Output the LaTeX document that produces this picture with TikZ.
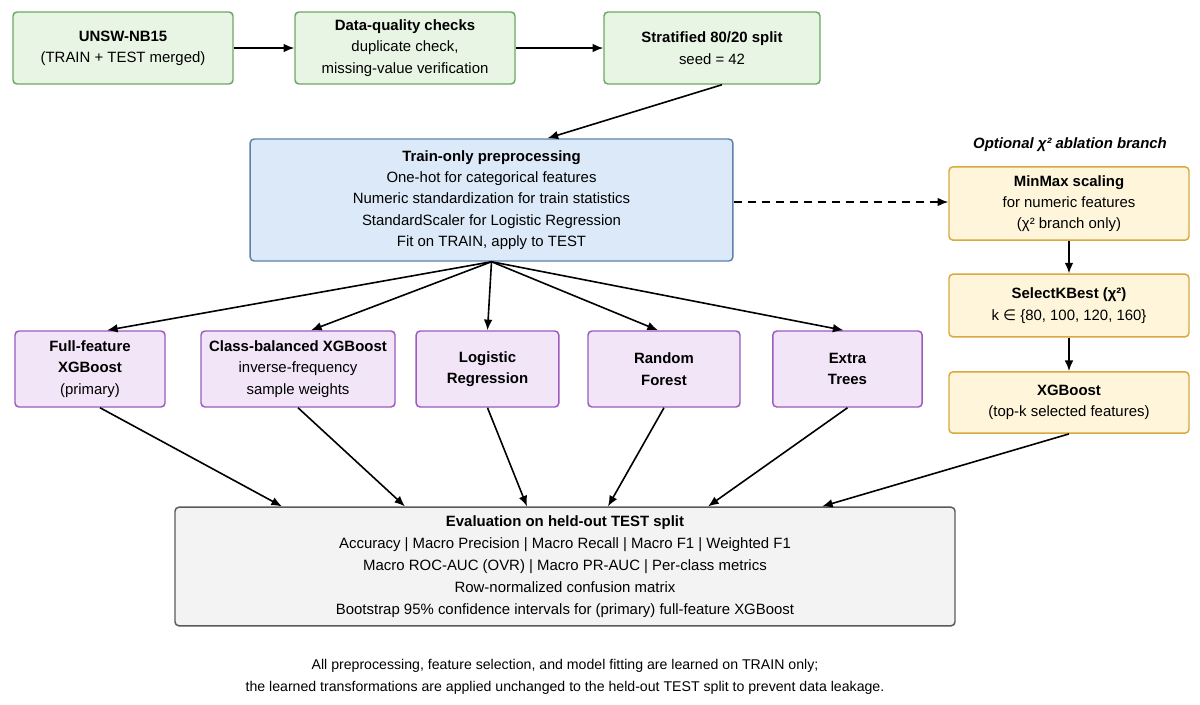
\documentclass[tikz,border=0pt]{standalone}
\usepackage{fontspec}
\setmainfont{Liberation Sans}
\newfontfamily\dejavu{DejaVu Sans}
\usetikzlibrary{arrows.meta,calc}
\definecolor{gfill}{HTML}{E9F5E4}\definecolor{gline}{HTML}{6AAA64}
\definecolor{bfill}{HTML}{DCE9F8}\definecolor{bline}{HTML}{5E82AC}
\definecolor{yfill}{HTML}{FEF5DB}\definecolor{yline}{HTML}{D9A93F}
\definecolor{pfill}{HTML}{F1E5F7}\definecolor{pline}{HTML}{9B5BC0}
\definecolor{efill}{HTML}{F3F3F3}\definecolor{eline}{HTML}{5A5A5A}
\begin{document}
\begin{tikzpicture}[x=0.75pt,y=-0.75pt,
  box/.style={draw,rounded corners=3pt,line width=1.1pt,align=center,inner sep=0pt,
    font=\fontsize{11.2}{16}\selectfont},
  gbox/.style={box,fill=gfill,draw=gline,minimum height=54pt},
  bbox/.style={box,fill=bfill,draw=bline},
  ybox/.style={box,fill=yfill,draw=yline,minimum width=180pt},
  pbox/.style={box,fill=pfill,draw=pline,minimum height=57pt},
  ebox/.style={box,fill=efill,draw=eline,font=\fontsize{11.2}{16.5}\selectfont},
  arr/.style={-{Latex[length=8pt,width=6.5pt]},line width=1.2pt,black},
  darr/.style={arr,dash pattern=on 6pt off 4.5pt}
]
\useasboundingbox (0,0) rectangle (1200,704);
\fill[white] (0,0) rectangle (1200,704);

% top row
\node[gbox,minimum width=165pt] (unsw) at (123,48) {\textbf{UNSW-NB15}\\(TRAIN + TEST merged)};
\node[gbox,minimum width=165pt] (dq) at (405,48) {\textbf{Data-quality checks}\\duplicate check,\\missing-value verification};
\node[gbox,minimum width=162pt] (strat) at (712,48) {\textbf{Stratified 80/20 split}\\seed = 42};

% preprocessing
\node[bbox,minimum width=362pt,minimum height=91.5pt] (train) at (491.5,200) {\textbf{Train-only preprocessing}\\One-hot for categorical features\\Numeric standardization for train statistics\\StandardScaler for Logistic Regression\\Fit on TRAIN, apply to TEST};

% chi2 branch
\node[font=\fontsize{11.2}{16}\selectfont\bfseries\itshape] (opt) at (1070,145) {Optional χ² ablation branch};
\node[ybox,minimum height=55pt] (minmax) at (1069,203.5) {\textbf{MinMax scaling}\\for numeric features\\(χ² branch only)};
\node[ybox,minimum height=47pt] (select) at (1069,305.5) {\textbf{SelectKBest (χ²)}\\k {\dejavu ∈} \{80, 100, 120, 160\}};
\node[ybox,minimum height=46pt] (xgb) at (1069,402.5) {\textbf{XGBoost}\\(top-k selected features)};

% models
\node[pbox,minimum width=112.5pt] (ff) at (90,369) {\textbf{Full-feature}\\\textbf{XGBoost}\\(primary)};
\node[pbox,minimum width=145.5pt] (cb) at (298,369) {\textbf{Class-balanced XGBoost}\\inverse-frequency\\sample weights};
\node[pbox,minimum width=107pt] (lr) at (487.5,369) {\textbf{Logistic}\\\textbf{Regression}};
\node[pbox,minimum width=114pt] (rf) at (664,369) {\textbf{Random}\\\textbf{Forest}};
\node[pbox,minimum width=112pt] (et) at (847.5,369) {\textbf{Extra}\\\textbf{Trees}};

% evaluation
\node[ebox,minimum width=585pt,minimum height=89pt] (ev) at (565,566.5) {\textbf{Evaluation on held-out TEST split}\\Accuracy | Macro Precision | Macro Recall | Macro F1 | Weighted F1\\Macro ROC-AUC (OVR) | Macro PR-AUC | Per-class metrics\\Row-normalized confusion matrix\\Bootstrap 95\% confidence intervals for (primary) full-feature XGBoost};

% footer
\node[align=center,font=\fontsize{10.6}{17}\selectfont] (foot) at (565,677) {All preprocessing, feature selection, and model fitting are learned on TRAIN only;\\the learned transformations are applied unchanged to the held-out TEST split to prevent data leakage.};

% connectors
\draw[arr] (unsw.east) -- (dq.west);
\draw[arr] (dq.east) -- (strat.west);
\draw[arr] ($(strat.south)+(10,0)$) -- ($(train.north)+(56,0)$);
\draw[darr] ($(train.east)+(0,2)$) -- ($(minmax.west)+(0,-1.5)$);
\draw[arr] (minmax.south) -- (select.north);
\draw[arr] (select.south) -- (xgb.north);

\draw[arr] (train.south) -- ($(ff.north)+(17,0)$);
\draw[arr] (train.south) -- ($(cb.north)+(13,0)$);
\draw[arr] (train.south) -- (lr.north);
\draw[arr] (train.south) -- ($(rf.north)+(-6,0)$);
\draw[arr] (train.south) -- ($(et.north)+(-4,0)$);

\draw[arr] ($(ff.south)+(10,0)$) -- ($(ev.north)+(-283,0)$);
\draw[arr] (cb.south) -- ($(ev.north)+(-160,0)$);
\draw[arr] (lr.south) -- ($(ev.north)+(-38,0)$);
\draw[arr] (rf.south) -- ($(ev.north)+(43,0)$);
\draw[arr] (et.south) -- ($(ev.north)+(143,0)$);
\draw[arr] (xgb.south) -- ($(ev.north)+(257,0)$);
\end{tikzpicture}
\end{document}
